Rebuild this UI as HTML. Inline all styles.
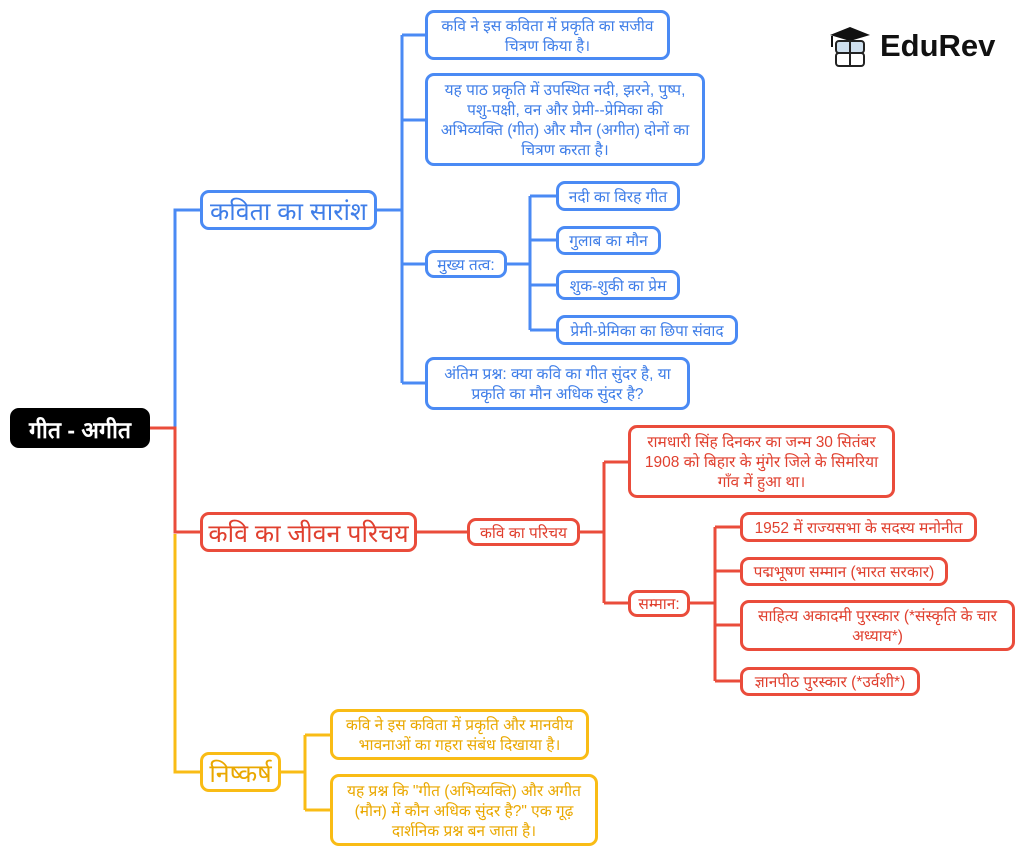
<!DOCTYPE html>
<html><head><meta charset="utf-8"><style>
body{margin:0;width:1024px;height:856px;background:#fff;position:relative;overflow:hidden;font-family:"Liberation Sans","Noto Sans CJK SC",sans-serif}
.n{position:absolute;box-sizing:border-box;border:3px solid;border-radius:9px;background:#fff;display:flex;align-items:center;justify-content:center;text-align:center;font-size:15.5px;line-height:20px;padding:3px 2px 0;white-space:nowrap}
.b{border-color:#4a8af4;color:#3f7ee8}
.r{border-color:#ea4c3b;color:#e0402f}
.y{border-color:#f9bc15;color:#eaa800}
.big{font-size:25px}
svg{position:absolute;left:0;top:0}
</style></head><body>
<svg width="1024" height="856" fill="none" stroke-width="3">
<g stroke="#4a8af4">
<path d="M175 428V210H200"/>
<path d="M377 210H402M402 35V383M402 35H425M402 120H425M402 264H425M402 383H425"/>
<path d="M507 264H530M530 196V330M530 196H556M530 240H556M530 285H556M530 330H556"/>
</g>
<g stroke="#ea4c3b">
<path d="M150 428H175V532H200"/>
<path d="M417 532H467M580 532H604M604 462V603M604 462H628M604 603H628"/>
<path d="M690 603H715M715 527V681M715 527H740M715 571H740M715 625H740M715 681H740"/>
</g>
<g stroke="#f9bc15">
<path d="M175 534V772H200M281 772H305M305 735V810M305 735H330M305 810H330"/>
</g>
</svg>
<div class="n" style="left:10px;top:408px;width:140px;height:40px;background:#000;border-color:#000;color:#fff;font-weight:bold;font-size:23px">गीत - अगीत</div>
<div class="n b big" style="left:200px;top:190px;width:177px;height:40px">कविता का सारांश</div>
<div class="n b" style="left:425px;top:10px;width:245px;height:50px">कवि ने इस कविता में प्रकृति का सजीव<br>चित्रण किया है।</div>
<div class="n b" style="left:425px;top:73px;width:280px;height:93px">यह पाठ प्रकृति में उपस्थित नदी, झरने, पुष्प,<br>पशु-पक्षी, वन और प्रेमी--प्रेमिका की<br>अभिव्यक्ति (गीत) और मौन (अगीत) दोनों का<br>चित्रण करता है।</div>
<div class="n b" style="left:425px;top:250px;width:82px;height:28px">मुख्य तत्व:</div>
<div class="n b" style="left:556px;top:181px;width:124px;height:30px">नदी का विरह गीत</div>
<div class="n b" style="left:556px;top:226px;width:105px;height:29px">गुलाब का मौन</div>
<div class="n b" style="left:556px;top:270px;width:124px;height:30px">शुक-शुकी का प्रेम</div>
<div class="n b" style="left:556px;top:315px;width:182px;height:30px">प्रेमी-प्रेमिका का छिपा संवाद</div>
<div class="n b" style="left:425px;top:357px;width:265px;height:53px">अंतिम प्रश्न: क्या कवि का गीत सुंदर है, या<br>प्रकृति का मौन अधिक सुंदर है?</div>
<div class="n r big" style="left:200px;top:512px;width:217px;height:40px">कवि का जीवन परिचय</div>
<div class="n r" style="left:467px;top:518px;width:113px;height:28px">कवि का परिचय</div>
<div class="n r" style="left:628px;top:425px;width:267px;height:73px">रामधारी सिंह दिनकर का जन्म 30 सितंबर<br>1908 को बिहार के मुंगेर जिले के सिमरिया<br>गाँव में हुआ था।</div>
<div class="n r" style="left:628px;top:590px;width:62px;height:27px">सम्मान:</div>
<div class="n r" style="left:740px;top:512px;width:237px;height:30px">1952 में राज्यसभा के सदस्य मनोनीत</div>
<div class="n r" style="left:740px;top:557px;width:208px;height:29px">पद्मभूषण सम्मान (भारत सरकार)</div>
<div class="n r" style="left:740px;top:600px;width:275px;height:51px">साहित्य अकादमी पुरस्कार (*संस्कृति के चार<br>अध्याय*)</div>
<div class="n r" style="left:740px;top:667px;width:180px;height:29px">ज्ञानपीठ पुरस्कार (*उर्वशी*)</div>
<div class="n y big" style="left:200px;top:752px;width:81px;height:40px">निष्कर्ष</div>
<div class="n y" style="left:330px;top:709px;width:259px;height:51px">कवि ने इस कविता में प्रकृति और मानवीय<br>भावनाओं का गहरा संबंध दिखाया है।</div>
<div class="n y" style="left:330px;top:774px;width:268px;height:72px">यह प्रश्न कि "गीत (अभिव्यक्ति) और अगीत<br>(मौन) में कौन अधिक सुंदर है?" एक गूढ़<br>दार्शनिक प्रश्न बन जाता है।</div>
<div style="position:absolute;left:826px;top:25px;width:46px;height:44px">
<svg width="46" height="44" style="position:absolute;left:0;top:0"><path d="M4 10L24 2L44 10L24 16Z" fill="#111"/><path d="M6 11V22" stroke="#111" stroke-width="2"/><rect x="10" y="16" width="28" height="12" rx="3" fill="#cfe0ee" stroke="#222" stroke-width="2"/><rect x="10" y="28" width="28" height="13" rx="3" fill="#fff" stroke="#222" stroke-width="2"/><path d="M24 16V41" stroke="#222" stroke-width="2"/></svg></div>
<div style="position:absolute;left:880px;top:28px;font-size:31px;font-weight:bold;color:#111;font-family:'Liberation Sans',sans-serif">EduRev</div>
</body></html>
